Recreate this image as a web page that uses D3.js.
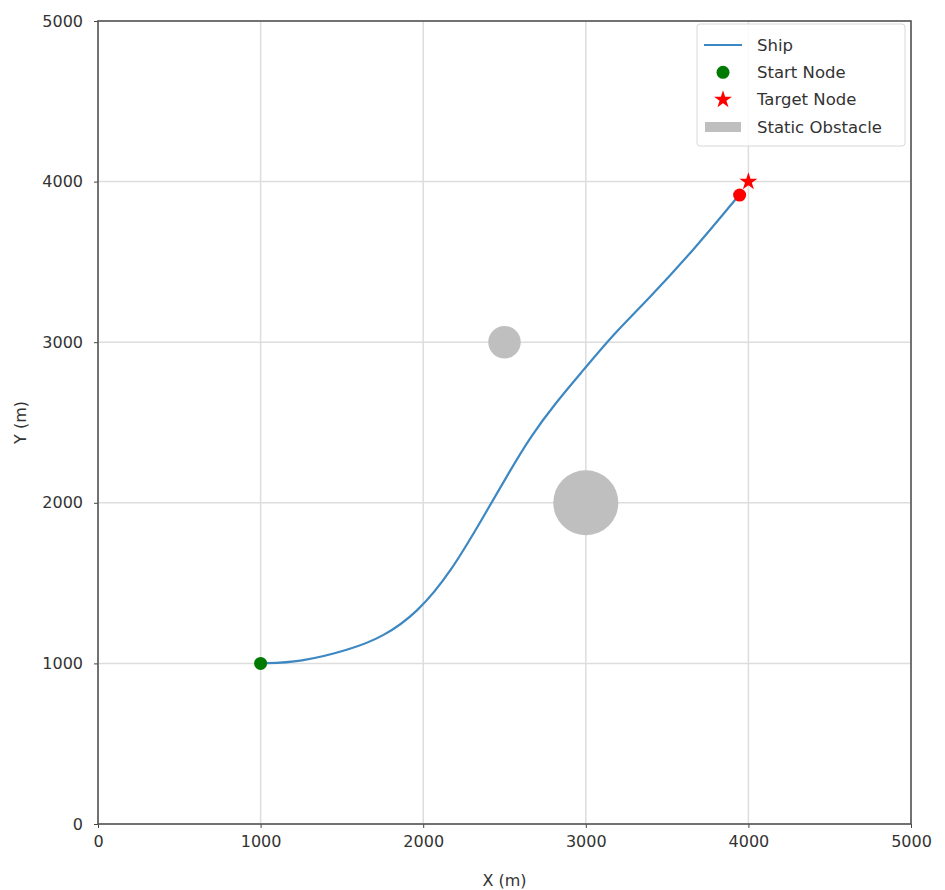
<!DOCTYPE html>
<html>
<head>
<meta charset="utf-8">
<script src="https://cdn.jsdelivr.net/npm/d3@7"></script>
<style>
  body { margin: 0; background: #fff; }
  text { font-family: "DejaVu Sans", sans-serif; }
</style>
</head>
<body>
<div id="chart"></div>
<script>
"use strict";

var ticks = [0, 1000, 2000, 3000, 4000, 5000];
var shipX = [1000, 1244, 1552, 1755, 1964, 2167, 2370, 2536, 2659, 2813, 2985, 3170, 3379, 3662, 3932];
var shipY = [1000, 1007, 1086, 1166, 1315, 1564, 1912, 2204, 2410, 2621, 2826, 3050, 3262, 3573, 3903];
var startNode = [1000, 1000];
var targetNode = [4000, 4000];
var shipNow = [3946, 3916];
var obstacleX = [2500, 3000];
var obstacleY = [3000, 2000];
var obstacleR = [100, 200];
var legendLabels = ["Ship", "Start Node", "Target Node", "Static Obstacle"];

var W = 945, H = 890;
var margin = {left: 98, top: 21, right: 34, bottom: 66};
var width = W - margin.left - margin.right,
    height = H - margin.top - margin.bottom;

var x = d3.scaleLinear().domain([0, 5000]).range([0, width]),
    y = d3.scaleLinear().domain([0, 5000]).range([height, 0]);

var svg = d3.select("#chart")
    .append("svg")
    .attr("width", W)
    .attr("height", H)
    .append("g")
    .attr("transform", "translate(" + margin.left + "," + margin.top + ")");

// grid
svg.append("g").selectAll("line")
    .data(ticks)
    .enter().append("line")
    .attr("x1", d => x(d)).attr("x2", d => x(d))
    .attr("y1", 0).attr("y2", height)
    .attr("stroke", "#dddddd").attr("stroke-width", 1.5);
svg.append("g").selectAll("line")
    .data(ticks)
    .enter().append("line")
    .attr("y1", d => y(d)).attr("y2", d => y(d))
    .attr("x1", 0).attr("x2", width)
    .attr("stroke", "#dddddd").attr("stroke-width", 1.5);

// obstacles (radius in data units)
svg.selectAll(".obs")
    .data(obstacleX.map((d, i) => ({x: d, y: obstacleY[i], r: obstacleR[i]})))
    .enter().append("circle")
    .attr("cx", d => x(d.x))
    .attr("cy", d => y(d.y))
    .attr("r", d => x(d.r) - x(0))
    .attr("fill", "#bfbfbf");

// ship path
var pts = shipX.map((d, i) => [d, shipY[i]]);
svg.append("path")
    .datum(pts)
    .attr("fill", "none")
    .attr("stroke", "#3d88c2")
    .attr("stroke-width", 2.2)
    .attr("d", d3.line().x(d => x(d[0])).y(d => y(d[1])).curve(d3.curveBasis));

// start / current / target
svg.append("circle")
    .attr("cx", x(startNode[0])).attr("cy", y(startNode[1]))
    .attr("r", 6.5).attr("fill", "#007a00");
svg.append("circle")
    .attr("cx", x(shipNow[0])).attr("cy", y(shipNow[1]))
    .attr("r", 6.5).attr("fill", "#ff0000");
var star = d3.symbol().type(d3.symbolStar).size(100);
svg.append("path")
    .attr("transform", "translate(" + x(targetNode[0]) + "," + y(targetNode[1]) + ")")
    .attr("d", star()).attr("fill", "#ff0000");

// axes
var ax = svg.append("g")
    .attr("transform", "translate(0," + height + ")")
    .call(d3.axisBottom(x).tickValues(ticks).tickSize(4).tickPadding(8).tickFormat(d3.format("d")));
var ay = svg.append("g")
    .call(d3.axisLeft(y).tickValues(ticks).tickSize(4).tickPadding(11).tickFormat(d3.format("d")));
[ax, ay].forEach(a => {
    a.select(".domain").remove();
    a.selectAll(".tick line").attr("stroke", "#444");
    a.selectAll(".tick text").attr("fill", "#333").style("font-size", "16px");
});

// frame
svg.append("rect")
    .attr("width", width).attr("height", height)
    .attr("fill", "none").attr("stroke", "#555").attr("stroke-width", 1.6);

svg.append("text")
    .attr("x", width / 2).attr("y", height + 62)
    .attr("text-anchor", "middle").attr("fill", "#333")
    .style("font-size", "16px").text("X (m)");
svg.append("text")
    .attr("transform", "translate(" + (-72) + "," + (height / 2) + ") rotate(-90)")
    .attr("text-anchor", "middle").attr("fill", "#333")
    .style("font-size", "16px").text("Y (m)");

// legend
var lg = svg.append("g").attr("transform", "translate(" + (width - 214) + ",3)");
lg.append("rect")
    .attr("width", 208).attr("height", 122).attr("rx", 3)
    .attr("fill", "#fff").attr("fill-opacity", 0.85)
    .attr("stroke", "#d8d8d8");
var row = d3.scaleLinear().domain([0, 3]).range([21, 103]);
lg.append("line").attr("x1", 7).attr("x2", 45).attr("y1", row(0)).attr("y2", row(0))
    .attr("stroke", "#3d88c2").attr("stroke-width", 2.2);
lg.append("circle").attr("cx", 26).attr("cy", row(1)).attr("r", 6.5).attr("fill", "#007a00");
lg.append("path").attr("transform", "translate(26," + row(2) + ")")
    .attr("d", star()).attr("fill", "#ff0000");
lg.append("rect").attr("x", 8).attr("y", row(3) - 5).attr("width", 36).attr("height", 10)
    .attr("fill", "#bfbfbf");
lg.selectAll(".lt")
    .data(legendLabels)
    .enter().append("text")
    .attr("x", 60).attr("y", (d, i) => row(i))
    .attr("dy", "0.35em").attr("fill", "#333")
    .style("font-size", "16.5px")
    .text(d => d);
</script>
</body>
</html>
